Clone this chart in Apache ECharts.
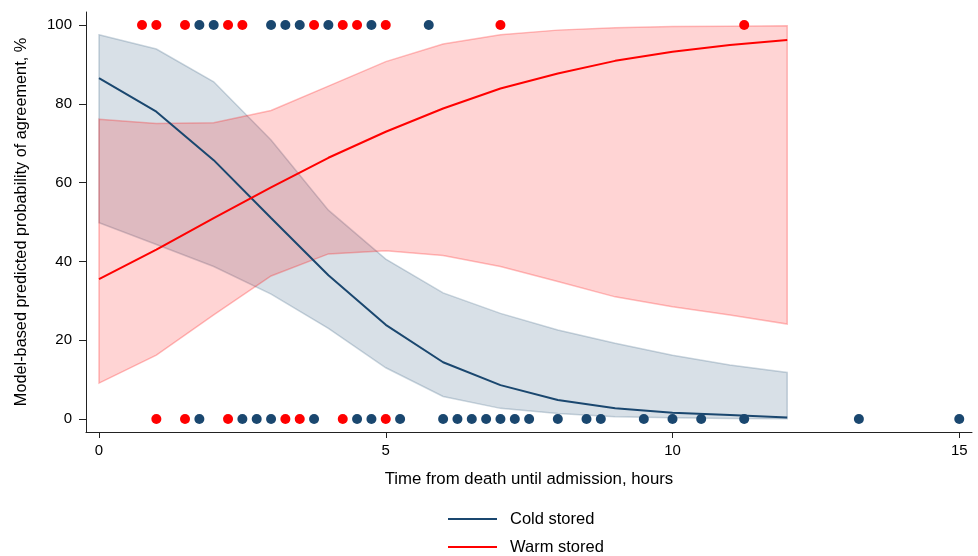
<!DOCTYPE html>
<html>
<head>
<meta charset="utf-8">
<script src="https://cdn.jsdelivr.net/npm/echarts@6/dist/echarts.min.js"></script>
<style>html,body{margin:0;padding:0;background:#fff}#c{width:978px;height:556px}</style>
</head>
<body>
<div id="c"></div>
<script>
// Hours at which model predictions are evaluated
const hours = [0, 1, 2, 3, 4, 5, 6, 7, 8, 9, 10, 11, 12];
// Cold stored: predicted probability and 95% CI
const coldMean = [86.5, 78, 65.7, 51, 36.5, 23.9, 14.4, 8.6, 4.8, 2.7, 1.6, 1.0, 0.4];
const coldLo   = [49.8, 44.3, 38.7, 31.7, 23, 13, 5.7, 2.7, 1.4, 0.6, 0.3, 0.15, 0.05];
const coldHi   = [97.5, 93.9, 85.6, 70.8, 53, 40.6, 32, 26.8, 22.6, 19.2, 16.2, 13.7, 11.8];
// Warm stored: predicted probability and 95% CI
const warmMean = [35.5, 43, 51, 58.8, 66.3, 72.9, 78.8, 83.9, 87.7, 90.9, 93.2, 94.9, 96.2];
const warmLo   = [9.1, 16.2, 26.4, 36.3, 41.9, 42.7, 41.5, 38.7, 34.9, 31, 28.5, 26.4, 24.1];
const warmHi   = [76.1, 75, 75.2, 78.3, 84.5, 90.7, 95.2, 97.5, 98.7, 99.3, 99.6, 99.7, 99.8];
// Observed outcomes (agreement = 100, disagreement = 0)
const coldAgree    = [1.75, 2.0, 3.0, 3.25, 3.5, 4.0, 4.75, 5.75];
const warmAgree    = [0.75, 1.0, 1.5, 2.25, 2.5, 3.75, 4.25, 4.5, 5.0, 7.0, 11.25];
const coldDisagree = [1.75, 2.5, 2.75, 3.0, 3.75, 4.5, 4.75, 5.25, 6.0, 6.25, 6.5, 6.75, 7.0, 7.25, 7.5, 8.0, 8.5, 8.75, 9.5, 10.0, 10.5, 11.25, 13.25, 15.0];
const warmDisagree = [1.0, 1.5, 2.25, 3.25, 3.5, 4.25, 5.0];
// Tick labels
const xTicks = [0, 5, 10, 15];
const yTicks = [0, 20, 40, 60, 80, 100];

const NAVY = '#1a476f', RED = '#ff0000';
const FONT = '"Liberation Sans", Arial, Helvetica, sans-serif';

function band(lo, hi, fill, stroke) {
  return {
    type: 'custom',
    silent: true,
    clip: true,
    data: hours.map((h, i) => [h, lo[i], hi[i]]),
    encode: { x: 0, y: [1, 2] },
    renderItem: function (params, api) {
      if (params.dataIndex !== 0) return null;
      const pts = [];
      for (let i = 0; i < hours.length; i++) pts.push(api.coord([hours[i], hi[i]]));
      for (let i = hours.length - 1; i >= 0; i--) pts.push(api.coord([hours[i], lo[i]]));
      return { type: 'polygon', shape: { points: pts }, style: { fill: fill, stroke: stroke, lineWidth: 1.5 } };
    }
  };
}

function legendBox(name, top) {
  return {
    orient: 'vertical', left: 448, top: top, padding: 0,
    itemWidth: 49, itemHeight: 2,
    icon: 'rect',
    textStyle: { fontSize: 16.5, color: '#000', fontFamily: FONT, lineHeight: 18, padding: [0, 0, 0, 8] },
    data: [name]
  };
}

const chart = echarts.init(document.getElementById('c'), null, { renderer: 'canvas' });
chart.setOption({
  animation: false,
  backgroundColor: '#fff',
  textStyle: { fontFamily: FONT },
  grid: { left: 86, right: 6, top: 12, bottom: 124, containLabel: false },
  xAxis: {
    type: 'value', min: -0.2267, max: 15.222,
    name: 'Time from death until admission, hours',
    nameLocation: 'middle', nameGap: 39,
    nameTextStyle: { fontSize: 16.8, color: '#000', fontFamily: FONT },
    axisLine: { show: true, onZero: false, lineStyle: { color: '#222', width: 1 } },
    axisTick: { show: true, length: 6, customValues: xTicks, lineStyle: { color: '#222' } },
    axisLabel: { customValues: xTicks, fontSize: 15, color: '#000', margin: 11, fontFamily: FONT },
    splitLine: { show: false }
  },
  yAxis: {
    type: 'value', min: -3.3, max: 103.3,
    name: 'Model-based predicted probability of agreement, %',
    nameLocation: 'middle', nameGap: 56,
    nameTextStyle: { fontSize: 16.3, color: '#000', fontFamily: FONT },
    axisLine: { show: true, onZero: false, lineStyle: { color: '#222', width: 1 } },
    axisTick: { show: true, length: 7, customValues: yTicks, lineStyle: { color: '#222' } },
    axisLabel: { customValues: yTicks, fontSize: 15, color: '#000', margin: 14, fontFamily: FONT },
    splitLine: { show: false }
  },
  legend: [legendBox('Cold stored', 510), legendBox('Warm stored', 538)],
  series: [
    Object.assign(band(coldLo, coldHi, 'rgba(26,71,111,0.17)', 'rgba(26,71,111,0.22)'), { z: 1 }),
    Object.assign(band(warmLo, warmHi, 'rgba(255,0,0,0.17)', 'rgba(255,0,0,0.25)'), { z: 2 }),
    { name: 'Cold stored', type: 'line', z: 3, data: hours.map((h, i) => [h, coldMean[i]]), showSymbol: false, symbol: 'none',
      lineStyle: { color: NAVY, width: 2 }, itemStyle: { color: NAVY } },
    { name: 'Warm stored', type: 'line', z: 4, data: hours.map((h, i) => [h, warmMean[i]]), showSymbol: false, symbol: 'none',
      lineStyle: { color: RED, width: 2 }, itemStyle: { color: RED } },
    { type: 'scatter', z: 5, symbolSize: 10, itemStyle: { color: NAVY, opacity: 1 },
      data: coldAgree.map(x => [x, 100]).concat(coldDisagree.map(x => [x, 0])) },
    { type: 'scatter', z: 5, symbolSize: 10, itemStyle: { color: RED, opacity: 1 },
      data: warmAgree.map(x => [x, 100]).concat(warmDisagree.map(x => [x, 0])) }
  ]
});
</script>
</body>
</html>
